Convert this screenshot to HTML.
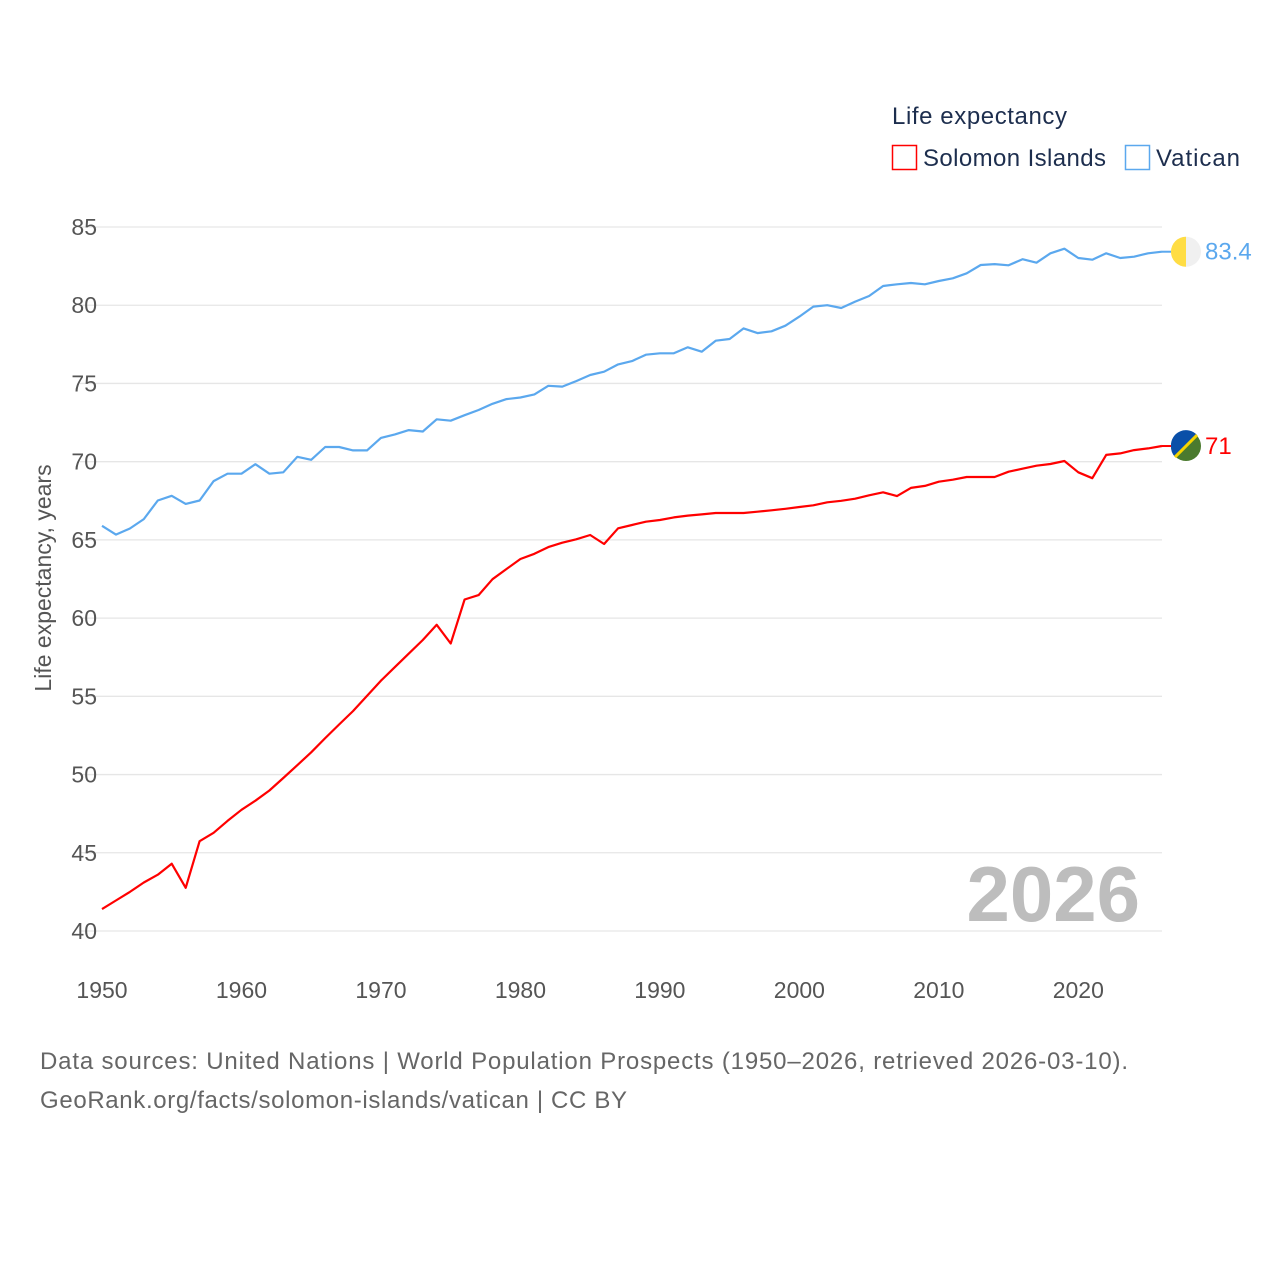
<!DOCTYPE html>
<html><head><meta charset="utf-8"><style>
body{margin:0;background:#fff;}
svg text{font-family:"Liberation Sans",sans-serif;}
</style></head><body>
<svg width="1280" height="1280" viewBox="0 0 1280 1280" xmlns="http://www.w3.org/2000/svg">
<g id="grid"></g>
<g id="yticks"></g>
<g id="xticks"></g>
<text transform="translate(51,578) rotate(-90)" text-anchor="middle" font-size="23" fill="#555">Life expectancy, years</text>
<text x="1140" y="921" text-anchor="end" font-size="78" font-weight="bold" fill="#bdbdbd">2026</text>
<g id="series"></g>
<g>
<text x="892" y="124" font-size="24" fill="#1d2e4e" textLength="175">Life expectancy</text>
<rect x="892.5" y="145.5" width="24" height="24" fill="none" stroke="#ff0000" stroke-width="1.5"/>
<text x="923" y="166" font-size="24" fill="#1d2e4e" textLength="183">Solomon Islands</text>
<rect x="1125.5" y="145.5" width="24" height="24" fill="none" stroke="#5ba8ee" stroke-width="1.5"/>
<text x="1156" y="166" font-size="24" fill="#1d2e4e" textLength="84">Vatican</text>
</g>
<text x="40" y="1069" font-size="24" fill="#666" textLength="1088">Data sources: United Nations | World Population Prospects (1950–2026, retrieved 2026-03-10).</text>
<text x="40" y="1108" font-size="24" fill="#666" textLength="587">GeoRank.org/facts/solomon-islands/vatican | CC BY</text>
</svg>
<script>
const years = [];
for (let y = 1950; y <= 2026; y++) years.push(y);
const solomon = [41.4,41.95,42.5,43.1,43.6,44.3,42.76,45.74,46.28,47.04,47.75,48.33,48.98,49.78,50.6,51.42,52.33,53.2,54.06,55.03,56.0,56.87,57.73,58.6,59.57,58.38,61.19,61.47,62.49,63.14,63.78,64.11,64.54,64.82,65.04,65.31,64.74,65.74,65.95,66.16,66.27,66.44,66.55,66.63,66.72,66.72,66.72,66.8,66.89,66.99,67.1,67.21,67.4,67.5,67.63,67.85,68.04,67.8,68.32,68.45,68.72,68.85,69.02,69.02,69.02,69.36,69.55,69.74,69.85,70.04,69.32,68.94,70.43,70.53,70.74,70.85,71.0];
const vatican = [65.9,65.34,65.73,66.33,67.52,67.82,67.3,67.52,68.76,69.23,69.23,69.84,69.23,69.32,70.31,70.12,70.94,70.94,70.72,70.72,71.52,71.74,72.02,71.93,72.71,72.62,72.97,73.3,73.7,74.0,74.1,74.3,74.85,74.8,75.15,75.54,75.75,76.22,76.43,76.84,76.93,76.93,77.31,77.03,77.73,77.84,78.52,78.22,78.33,78.69,79.27,79.91,80.0,79.82,80.23,80.59,81.23,81.34,81.42,81.34,81.55,81.72,82.04,82.57,82.63,82.55,82.94,82.72,83.32,83.61,83.02,82.91,83.32,83.02,83.1,83.32,83.42];
const yTicks = [40,45,50,55,60,65,70,75,80,85];
const xTicks = [1950,1960,1970,1980,1990,2000,2010,2020];
const endLabels = ["71","83.4"];

const NS = "http://www.w3.org/2000/svg";
const xS = y => 102 + (y - 1950) * (1162 - 102) / 76;
const yS = v => 227 + (85 - v) * (931 - 227) / 45;
function mk(tag, attrs, parent){const e=document.createElementNS(NS,tag);for(const k in attrs)e.setAttribute(k,attrs[k]);parent.appendChild(e);return e;}
const grid=document.getElementById('grid'), yt=document.getElementById('yticks'), xt=document.getElementById('xticks'), ser=document.getElementById('series');
yTicks.forEach(t=>{
  const l=mk('line',{x1:80,x2:1162,y1:yS(t),y2:yS(t),stroke:'#e6e6e6','stroke-width':1.3},grid);
  
  
  const tx=mk('text',{x:97,y:yS(t)+8,'text-anchor':'end','font-size':23,fill:'#555'},yt);
  tx.textContent=t;
  
  
});
xTicks.forEach(t=>{
  const tx=mk('text',{x:xS(t),y:998,'text-anchor':'middle','font-size':23,fill:'#555'},xt);
  tx.textContent=t;
  
  
});
function line(vals,color,name){
  const d=vals.map((v,i)=>(i?'L':'M')+xS(years[i]).toFixed(1)+','+yS(v).toFixed(1)).join('');
  const p=mk('path',{d:d,fill:'none',stroke:color,'stroke-width':2.2,'stroke-linejoin':'round'},ser);
  
  
}
line(vatican,'#5ba8ee','vatican');
line(solomon,'#ff0000','solomon');
const lastV=vatican[vatican.length-1], lastS=solomon[solomon.length-1];
const cx=1186;
const vy=yS(lastV), sy=yS(lastS);
const g1=mk('g',{},ser);


mk('line',{x1:1162,x2:1172,y1:vy,y2:vy,stroke:'#5ba8ee','stroke-width':2},g1);
mk('circle',{cx:cx,cy:vy,r:15,fill:'#f0f0f0'},g1);
mk('path',{d:`M${cx},${vy-15} A15,15 0 0,0 ${cx},${vy+15} Z`,fill:'#ffdd44'},g1);
const g2=mk('g',{},ser);


mk('line',{x1:1162,x2:1172,y1:sy,y2:sy,stroke:'#ff0000','stroke-width':2},g2);
mk('circle',{cx:cx,cy:sy,r:15,fill:'#4a7a2e'},g2);
mk('path',{d:`M${cx-15},${sy} A15,15 0 0,1 ${cx+11},${sy-11} L${cx-11},${sy+11} A15,15 0 0,1 ${cx-15},${sy} Z`,fill:'#0a4fa8'},g2);
mk('line',{x1:cx+11,y1:sy-11,x2:cx-11,y2:sy+11,stroke:'#f5d400','stroke-width':3},g2);
const t1=mk('text',{x:1205,y:vy+8,'font-size':24,fill:'#5ba8ee'},ser);
t1.textContent=endLabels[1];


const t2=mk('text',{x:1205,y:sy+8,'font-size':24,fill:'#ff0000'},ser);
t2.textContent=endLabels[0];


</script>
</body></html>
